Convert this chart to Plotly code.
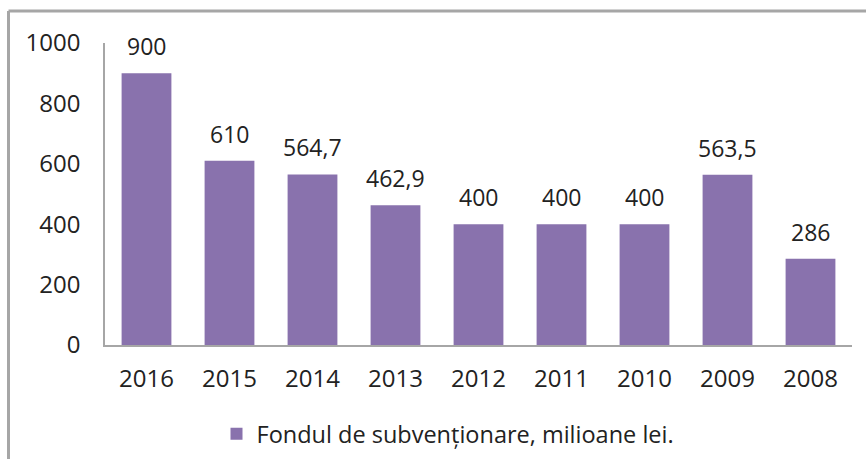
import plotly.graph_objects as go

years = ["2016", "2015", "2014", "2013", "2012", "2011", "2010", "2009", "2008"]
values = [900, 610, 564.7, 462.9, 400, 400, 400, 563.5, 286]
series_name = "Fondul de subvenționare, milioane lei."
y_ticks = [0, 200, 400, 600, 800, 1000]

FONT = "Open Sans"
TXT = "#222222"
BAR = "#8972AD"
AX = "#a6a6a6"

W, H = 866, 459
L, R, T, B = 105, 14, 43, 114
pw, ph = W - L - R, H - T - B

def px_x(p):
    return (p - L) / pw

def px_y(p):
    return (H - B - p) / ph

fig = go.Figure()
fig.add_trace(go.Bar(
    x=years, y=values, name=series_name,
    marker=dict(color=BAR, line=dict(width=0)),
    showlegend=True,
))

for i, v in enumerate(values):
    fig.add_annotation(
        x=i, y=v, xref="x", yref="y",
        text=f"{v:g}".replace(".", ","),
        showarrow=False, yanchor="middle", yshift=27,
        font=dict(family=FONT, size=23, color=TXT),
    )

# outer chart frame (top and left edges visible)
fig.add_shape(type="line", xref="paper", yref="paper",
              x0=px_x(8.5), x1=px_x(W + 5), y0=px_y(11), y1=px_y(11),
              line=dict(color=AX, width=3), layer="above")
fig.add_shape(type="line", xref="paper", yref="paper",
              x0=px_x(8.5), x1=px_x(8.5), y0=px_y(11), y1=px_y(H + 5),
              line=dict(color=AX, width=3), layer="above")

fig.update_layout(
    width=W, height=H,
    margin=dict(l=L, r=R, t=T, b=B, pad=0, autoexpand=False),
    paper_bgcolor="white", plot_bgcolor="white",
    bargap=0.40,
    font=dict(family=FONT, size=23, color=TXT),
    showlegend=True,
    legend=dict(orientation="h", x=px_x(448), xanchor="center",
                y=px_y(434), yanchor="middle",
                font=dict(family=FONT, size=23.5, color=TXT)),
    xaxis=dict(type="category", range=[-0.5, len(years) - 0.5],
               showline=True, linecolor=AX, linewidth=1.5,
               ticks="", showgrid=False, ticklabelstandoff=11,
               tickfont=dict(family=FONT, size=24, color=TXT)),
    yaxis=dict(range=[0, 1000], tickvals=y_ticks, showline=True, linecolor=AX,
               linewidth=1.5, ticks="", showgrid=False, zeroline=False,
               ticklabelstandoff=18,
               tickfont=dict(family=FONT, size=24, color=TXT)),
)

fig.write_html("out.html", config={"displayModeBar": False},
               post_script="document.body.style.margin='0';document.body.style.padding='0';")
